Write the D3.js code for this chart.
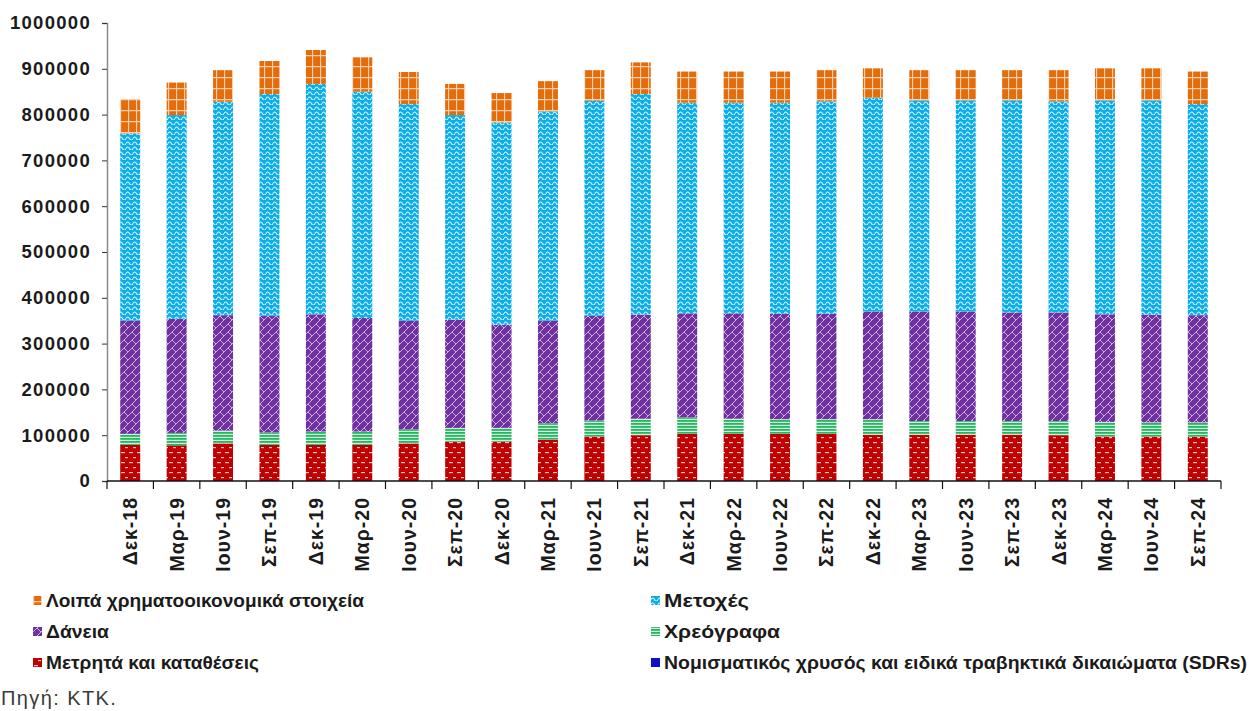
<!DOCTYPE html>
<html>
<head>
<meta charset="utf-8">
<script src="https://cdn.jsdelivr.net/npm/d3@7"></script>
<style>
  body { margin: 0; background: #fff; }
  svg { display: block; font-family: 'Liberation Sans', Arial, sans-serif; }
</style>
</head>
<body>
<svg id="chart" width="1252" height="711"></svg>
<script>
const categories = ['Δεκ-18', 'Μαρ-19', 'Ιουν-19', 'Σεπ-19', 'Δεκ-19', 'Μαρ-20', 'Ιουν-20', 'Σεπ-20',
  'Δεκ-20', 'Μαρ-21', 'Ιουν-21', 'Σεπ-21', 'Δεκ-21', 'Μαρ-22', 'Ιουν-22', 'Σεπ-22',
  'Δεκ-22', 'Μαρ-23', 'Ιουν-23', 'Σεπ-23', 'Δεκ-23', 'Μαρ-24', 'Ιουν-24', 'Σεπ-24'];

// values in thousands
const sdr = [0, 0, 0, 0, 0, 0, 0, 0, 0, 0, 0, 0, 0, 0, 0, 0, 0, 0, 0, 0, 0, 0, 0, 0];
const cash = [79, 78, 82, 79, 79, 79, 82, 86, 86, 90, 97, 100, 103, 103, 103, 103, 101, 101, 101, 101, 100, 97, 97, 97];
const securities = [24, 27, 28, 27, 29, 29, 31, 30, 30, 36, 35, 36, 36, 33, 32, 32, 34, 30, 30, 30, 31, 32, 31, 31];
const loans = [247, 249, 252, 255, 256, 248, 237, 236, 225, 224, 229, 227, 227, 230, 230, 230, 235, 239, 239, 237, 237, 235, 235, 234];
const shares = [409, 445, 466, 484, 503, 494, 473, 447, 442, 457, 469, 482, 460, 460, 461, 464, 467, 461, 461, 463, 461, 467, 468, 461];
const other = [75, 71, 69, 72, 74, 75, 70, 68, 64, 66, 67, 69, 68, 68, 68, 68, 64, 66, 66, 66, 68, 70, 70, 71];

const yTicks = [0, 100000, 200000, 300000, 400000, 500000, 600000, 700000, 800000, 900000, 1000000];

const seriesKeys = ['sdr', 'cash', 'securities', 'loans', 'shares', 'other'];
const legendLabels = {
  other: 'Λοιπά χρηματοοικονομικά στοιχεία',
  shares: 'Μετοχές',
  loans: 'Δάνεια',
  securities: 'Χρεόγραφα',
  cash: 'Μετρητά και καταθέσεις',
  sdr: 'Νομισματικός χρυσός και ειδικά τραβηκτικά  δικαιώματα (SDRs)',
};

const svg = d3.select('svg');
const plot = { left: 107, right: 1221, top: 23, bottom: 481 };
const ink = '#1b1b1b';

function makePatterns() {
  const defs = svg.append('defs');

  const pOther = defs.append('pattern').attr('id', 'p-other')
    .attr('patternUnits', 'userSpaceOnUse').attr('width', 8).attr('height', 11);
  pOther.append('rect').attr('width', 8).attr('height', 11).attr('fill', '#E46C0A');
  pOther.append('path').attr('d', 'M0,0.5H8M0.5,0V11')
    .attr('stroke', '#F8CFAE').attr('stroke-width', 1.3).attr('fill', 'none');

  const pShares = defs.append('pattern').attr('id', 'p-shares')
    .attr('patternUnits', 'userSpaceOnUse').attr('width', 7).attr('height', 5);
  pShares.append('rect').attr('width', 7).attr('height', 5).attr('fill', '#0AAEE8');
  pShares.append('path').attr('d', 'M0,3.6Q1.75,0.3 3.5,3.6T7,3.6')
    .attr('stroke', '#E0F5FD').attr('stroke-width', 1.1).attr('fill', 'none');

  const pLoans = defs.append('pattern').attr('id', 'p-loans')
    .attr('patternUnits', 'userSpaceOnUse').attr('width', 8).attr('height', 8);
  pLoans.append('rect').attr('width', 8).attr('height', 8).attr('fill', '#7030A0');
  pLoans.append('path').attr('d', 'M0,8L8,0M-1,1L1,-1M7,9L9,7M4,4L8,8')
    .attr('stroke', '#D3C0E3').attr('stroke-width', 0.9).attr('fill', 'none');

  const pSec = defs.append('pattern').attr('id', 'p-securities')
    .attr('patternUnits', 'userSpaceOnUse').attr('width', 4).attr('height', 3);
  pSec.append('rect').attr('width', 4).attr('height', 3).attr('fill', '#CDF1DA');
  pSec.append('rect').attr('width', 4).attr('height', 1.8).attr('fill', '#28B462');

  const pCash = defs.append('pattern').attr('id', 'p-cash')
    .attr('patternUnits', 'userSpaceOnUse').attr('width', 8).attr('height', 10);
  pCash.append('rect').attr('width', 8).attr('height', 10).attr('fill', '#C00000');
  pCash.append('rect').attr('x', 1).attr('y', 2).attr('width', 4).attr('height', 1.2).attr('fill', '#F4C6C6');
  pCash.append('rect').attr('x', 5).attr('y', 7).attr('width', 4).attr('height', 1.2).attr('fill', '#F4C6C6');
}

const fills = {
  other: 'url(#p-other)',
  shares: 'url(#p-shares)',
  loans: 'url(#p-loans)',
  securities: 'url(#p-securities)',
  cash: 'url(#p-cash)',
  sdr: '#0A10C8',
};

function drawChart() {
  const rows = categories.map((c, i) => ({
    cat: c,
    sdr: sdr[i] * 1000,
    cash: cash[i] * 1000,
    securities: securities[i] * 1000,
    loans: loans[i] * 1000,
    shares: shares[i] * 1000,
    other: other[i] * 1000,
  }));

  const stacked = d3.stack().keys(seriesKeys)(rows);

  const x = d3.scaleBand()
    .domain(categories)
    .range([plot.left, plot.right])
    .paddingInner(0.57)
    .paddingOuter(0.285);

  const y = d3.scaleLinear()
    .domain([0, 1000000])
    .range([plot.bottom, plot.top]);

  // bars
  svg.append('g').selectAll('g')
    .data(stacked)
    .enter()
    .append('g')
    .attr('fill', (d) => fills[d.key])
    .selectAll('rect')
    .data((d) => d)
    .enter()
    .append('rect')
    .attr('x', (d) => x(d.data.cat))
    .attr('width', x.bandwidth())
    .attr('y', (d) => y(d[1]))
    .attr('height', (d) => y(d[0]) - y(d[1]));

  // y axis
  const yAxis = svg.append('g')
    .attr('transform', `translate(${plot.left},0)`)
    .call(d3.axisLeft(y).tickValues(yTicks).tickSize(5).tickPadding(11)
      .tickFormat(d3.format('d')));
  yAxis.select('.domain').attr('stroke', '#8a8a8a').attr('stroke-width', 1.5);
  yAxis.selectAll('.tick line').attr('stroke', '#333');
  yAxis.selectAll('.tick text')
    .attr('fill', ink)
    .attr('font-size', 18.5)
    .attr('font-weight', 700)
    .attr('letter-spacing', 1.3)
    .attr('font-family', "'Liberation Sans', Arial, sans-serif");

  // x axis: line with ticks on category boundaries
  const step = x.step();
  const xStart = plot.left;
  const xg = svg.append('g');
  xg.append('line')
    .attr('x1', plot.left).attr('x2', plot.right)
    .attr('y1', plot.bottom).attr('y2', plot.bottom)
    .attr('stroke', '#111').attr('stroke-width', 1.5);
  xg.selectAll('.xtick')
    .data(d3.range(categories.length + 1))
    .enter()
    .append('line')
    .attr('x1', (i) => xStart + i * step)
    .attr('x2', (i) => xStart + i * step)
    .attr('y1', plot.bottom)
    .attr('y2', plot.bottom + 8)
    .attr('stroke', '#111')
    .attr('stroke-width', 1.2);

  xg.selectAll('.xlabel')
    .data(categories)
    .enter()
    .append('text')
    .attr('transform', (d) => `translate(${x(d) + x.bandwidth() / 2}, ${plot.bottom + 16}) rotate(-90)`)
    .attr('dy', '0.36em')
    .attr('text-anchor', 'end')
    .attr('fill', ink)
    .attr('font-size', 19.5)
    .attr('font-weight', 700)
    .attr('letter-spacing', 1)
    .text((d) => d);
}

function drawLegend() {
  const items = [
    { key: 'other', x: 33, y: 601, w: 318 },
    { key: 'shares', x: 651, y: 601, w: 85 },
    { key: 'loans', x: 33, y: 632, w: 63 },
    { key: 'securities', x: 651, y: 632, w: 116 },
    { key: 'cash', x: 33, y: 663, w: 213 },
    { key: 'sdr', x: 651, y: 663, w: 583 },
  ];

  const g = svg.append('g').attr('id', 'legend');
  const item = g.selectAll('g').data(items).enter().append('g')
    .attr('transform', (d) => `translate(${d.x}, ${d.y})`);

  item.append('rect')
    .attr('x', 0).attr('y', -5)
    .attr('width', 9).attr('height', 9)
    .attr('fill', (d) => fills[d.key]);

  item.append('text')
    .attr('x', 13)
    .attr('dy', '0.36em')
    .attr('fill', ink)
    .attr('font-size', 17.5)
    .attr('font-weight', 700)
    .attr('textLength', (d) => d.w)
    .attr('lengthAdjust', 'spacingAndGlyphs')
    .text((d) => legendLabels[d.key]);

  svg.append('text')
    .attr('x', 1)
    .attr('y', 705)
    .attr('fill', '#3a3a3a')
    .attr('font-size', 20)
    .attr('letter-spacing', 1.4)
    .text('Πηγή: ΚΤΚ.');
}

makePatterns();
drawChart();
drawLegend();
</script>
</body>
</html>
